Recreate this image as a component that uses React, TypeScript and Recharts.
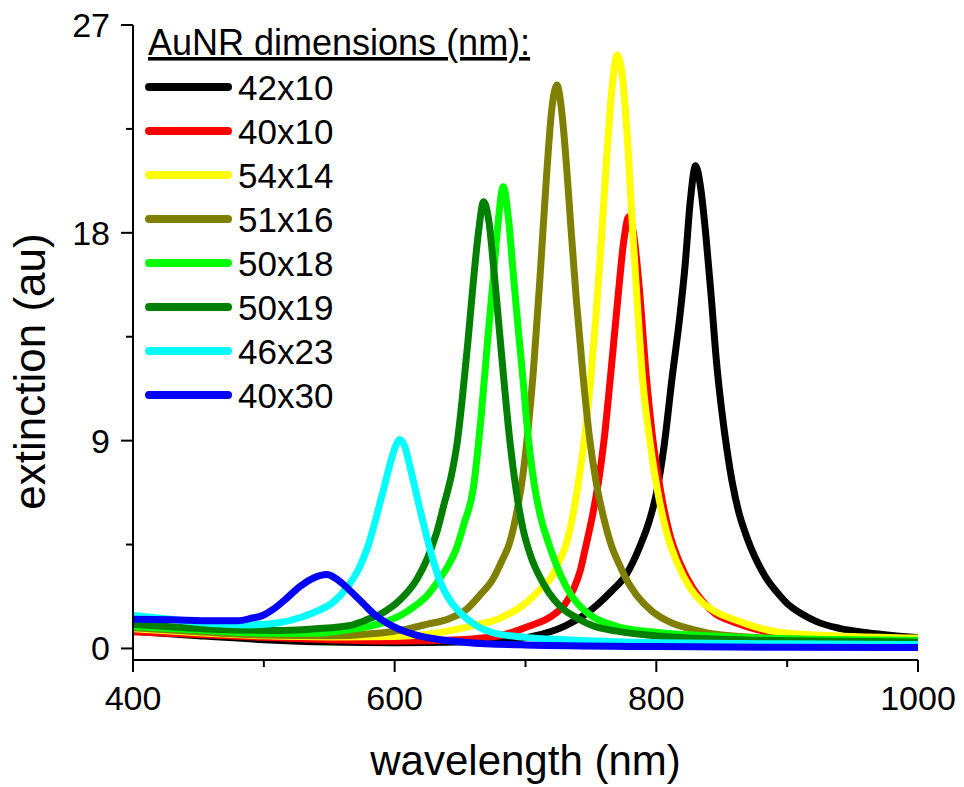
import React from "react";
import { LineChart, Line, XAxis, YAxis, Legend } from "recharts";

const FONT = "'Liberation Sans', Arial, sans-serif";

// rod dimensions (length x width, nm), in legend order
const rodLabels = ["42x10", "40x10", "54x14", "51x16", "50x18", "50x19", "46x23", "40x30"];
const rodColors = ["#000000", "#FF0000", "#FFFF00", "#808000", "#00FF00", "#008000", "#00FFFF", "#0000FF"];

const xTicks = [400, 500, 600, 700, 800, 900, 1000];
const yTicks = [0, 4.5, 9, 13.5, 18, 22.5, 27];

// extinction spectra: wavelength (nm) / extinction (au)
const nm42x10 = [400, 450, 500, 550, 600, 650, 680, 706, 730, 745, 755, 766, 777, 788, 795, 800, 806, 812, 818, 822, 826, 830, 834, 838, 842, 846, 850, 854, 858, 863, 868, 872, 878, 884, 892, 900, 911, 923, 940, 961, 980, 1000];
const ext42x10 = [0.75, 0.55, 0.38, 0.28, 0.25, 0.28, 0.36, 0.53, 0.97, 1.45, 1.9, 2.5, 3.2, 4.5, 5.6, 6.7, 8.8, 11.7, 14.4, 16.6, 19.4, 20.9, 19.9, 17.8, 15.2, 12.4, 10.3, 8.6, 7.2, 5.9, 5.0, 4.4, 3.65, 3.05, 2.45, 1.95, 1.5, 1.15, 0.87, 0.68, 0.56, 0.47];

const nm40x10 = [400, 450, 500, 550, 600, 650, 680, 703, 720, 730, 737, 742, 746, 751, 756, 760, 765, 771, 775, 779, 783, 787, 792, 797, 803, 810, 818, 828, 836, 845, 859, 875, 897, 950, 1000];
const ext40x10 = [0.72, 0.6, 0.48, 0.38, 0.32, 0.38, 0.55, 0.97, 1.4, 1.9, 2.6, 3.4, 4.4, 5.7, 7.3, 9.0, 11.8, 15.4, 17.6, 18.7, 17.8, 15.6, 12.0, 9.2, 6.9, 5.0, 3.7, 2.6, 2.0, 1.5, 1.15, 0.85, 0.6, 0.4, 0.33];

const nm54x14 = [400, 450, 500, 550, 600, 625, 658, 680, 701, 712, 720, 726, 731, 736, 741, 746, 750, 754, 758, 762, 766, 770, 774, 778, 782, 786, 789, 795, 801, 808, 816, 826, 835, 845, 859, 875, 897, 950, 1000];
const ext54x14 = [0.85, 0.68, 0.55, 0.5, 0.52, 0.62, 0.97, 1.3, 2.0, 2.6, 3.1, 3.8, 4.5, 5.7, 7.4, 9.5, 11.8, 14.5, 17.7, 21.2, 24.2, 25.7, 24.8, 22.0, 18.0, 14.5, 12.0, 9.0, 6.8, 5.0, 3.7, 2.6, 2.0, 1.6, 1.26, 0.95, 0.68, 0.52, 0.45];

const nm51x16 = [400, 450, 500, 550, 591, 610, 625, 642, 655, 665, 675, 682, 688, 693, 698, 702, 706, 711, 716, 720, 724, 728, 732, 735, 739, 744, 749, 754, 760, 766, 772, 777, 785, 797, 810, 828, 850, 900, 950, 1000];
const ext51x16 = [0.9, 0.72, 0.58, 0.55, 0.68, 0.85, 1.05, 1.3, 1.7, 2.3, 3.0, 3.8, 4.6, 5.8, 7.5, 9.5, 12.0, 16.0, 20.4, 23.3, 24.4, 23.1, 20.4, 18.0, 15.0, 11.8, 9.1, 7.2, 5.6, 4.4, 3.6, 3.0, 2.3, 1.6, 1.15, 0.82, 0.58, 0.42, 0.35, 0.3];

const nm50x18 = [400, 450, 500, 540, 566, 591, 605, 617, 625, 633, 640, 647, 653, 660, 666, 671, 675, 679, 683, 687, 691, 695, 698, 702, 707, 712, 718, 722, 727, 735, 745, 752, 770, 803, 850, 900, 1000];
const ext50x18 = [0.95, 0.8, 0.66, 0.66, 0.82, 1.12, 1.45, 1.9, 2.3, 2.9, 3.5, 4.3, 5.4, 6.9, 10.0, 13.3, 15.8, 18.4, 20.0, 18.6, 16.0, 13.5, 11.7, 9.2, 7.0, 5.6, 4.5, 3.85, 3.15, 2.3, 1.65, 1.35, 0.95, 0.68, 0.52, 0.42, 0.36];

const nm50x19 = [400, 440, 476, 515, 540, 566, 579, 591, 604, 617, 625, 632, 638, 643, 648, 652, 656, 660, 664, 668, 672, 676, 680, 684, 688, 693, 698, 704, 710, 718, 727, 740, 752, 770, 803, 850, 900, 1000];
const ext50x19 = [1.05, 0.9, 0.8, 0.78, 0.85, 1.0, 1.25, 1.55, 2.1, 3.0, 3.9, 5.0, 6.3, 7.4, 9.0, 11.0, 13.3, 15.8, 18.0, 19.35, 18.5, 16.3, 13.8, 11.3, 9.0, 6.8, 5.2, 4.0, 3.2, 2.4, 1.8, 1.3, 0.97, 0.75, 0.53, 0.4, 0.33, 0.28];

const nm46x23 = [400, 430, 460, 489, 510, 528, 540, 553, 563, 573, 580, 586, 592, 597, 601, 604, 608, 612, 617, 622, 628, 634, 642, 651, 662, 675, 700, 730, 800, 900, 1000];
const ext46x23 = [1.43, 1.25, 1.08, 1.02, 1.1, 1.34, 1.6, 2.0, 2.6, 3.5, 4.5, 5.7, 7.0, 8.1, 8.8, 9.05, 8.7, 7.8, 6.6, 5.4, 4.1, 3.0, 2.1, 1.5, 1.0, 0.68, 0.48, 0.38, 0.25, 0.2, 0.17];

const nm40x30 = [400, 430, 460, 480, 490, 500, 507, 515, 528, 538, 548, 557, 566, 575, 584, 594, 604, 615, 629, 655, 700, 800, 900, 1000];
const ext40x30 = [1.27, 1.24, 1.2, 1.2, 1.3, 1.45, 1.69, 2.05, 2.7, 3.05, 3.2, 2.95, 2.5, 2.0, 1.5, 1.1, 0.82, 0.6, 0.43, 0.26, 0.15, 0.08, 0.05, 0.04];

const nmLists = [nm42x10, nm40x10, nm54x14, nm51x16, nm50x18, nm50x19, nm46x23, nm40x30];
const extLists = [ext42x10, ext40x10, ext54x14, ext51x16, ext50x18, ext50x19, ext46x23, ext40x30];

const curves = rodLabels.map((label, i) => ({
  label,
  color: rodColors[i],
  points: nmLists[i].map((nm, j) => ({ nm, ext: extLists[i][j] })),
}));

const XTick = (props: any) => {
  const { x, y, payload } = props;
  const major = payload.value % 200 === 0;
  return (
    <g>
      <line x1={x} x2={x} y1={y} y2={y + (major ? 12 : 7)} stroke="#000" strokeWidth={2} />
      {major && (
        <text x={x} y={y + 50} textAnchor="middle" fontSize={34} fontFamily={FONT} fill="#000">
          {payload.value}
        </text>
      )}
    </g>
  );
};

const YTick = (props: any) => {
  const { x, y, payload } = props;
  const major = payload.value % 9 === 0;
  return (
    <g>
      <line x1={x - (major ? 12 : 7)} x2={x} y1={y} y2={y} stroke="#000" strokeWidth={2} />
      {major && (
        <text x={x - 23} y={y + 12} textAnchor="end" fontSize={34} fontFamily={FONT} fill="#000">
          {payload.value}
        </text>
      )}
    </g>
  );
};

const LegendBox = () => (
  <svg width={964} height={420} style={{ position: "absolute", left: 0, top: 0 }}>
    <text x={148} y={55} fontSize={36} fontFamily={FONT} fill="#000" textDecoration="underline">
      AuNR dimensions (nm):
    </text>
    {curves.map((c, i) => (
      <g key={c.label}>
        <line x1={149} x2={228} y1={87 + i * 44} y2={87 + i * 44} stroke={c.color} strokeWidth={8} strokeLinecap="round" />
        <text x={238} y={87 + i * 44 + 12.5} fontSize={35} fontFamily={FONT} fill="#000">
          {c.label}
        </text>
      </g>
    ))}
  </svg>
);

export default function App() {
  return (
    <div style={{ position: "absolute", left: 0, top: 0, width: 964, height: 787, background: "#fff" }}>
      <LineChart width={964} height={787} margin={{ top: 25, right: 46, bottom: 1, left: 0 }}>
        <XAxis
          type="number"
          dataKey="nm"
          domain={[400, 1000]}
          ticks={xTicks}
          interval={0}
          allowDataOverflow
          height={126}
          tickSize={0}
          tickMargin={0}
          tickLine={false}
          tick={<XTick />}
          axisLine={{ stroke: "#000", strokeWidth: 2 }}
          label={(p: any) => {
            const vb = p.viewBox;
            return (
              <text x={vb.x + vb.width / 2} y={vb.y + 115} textAnchor="middle" fontSize={42} fontFamily={FONT} fill="#000">
                wavelength (nm)
              </text>
            );
          }}
        />
        <YAxis
          type="number"
          domain={[-0.5, 27]}
          ticks={yTicks}
          interval={0}
          allowDataOverflow
          width={133}
          tickSize={0}
          tickMargin={0}
          tickLine={false}
          tick={<YTick />}
          axisLine={{ stroke: "#000", strokeWidth: 2 }}
          label={(p: any) => {
            const vb = p.viewBox;
            const cy = vb.y + vb.height / 2 + 29;
            return (
              <text x={45} y={cy} transform={`rotate(-90, 45, ${cy})`} textAnchor="middle" fontSize={44} fontFamily={FONT} fill="#000">
                extinction (au)
              </text>
            );
          }}
        />
        {curves.map((c) => (
          <Line
            key={c.label}
            data={c.points}
            dataKey="ext"
            name={c.label}
            type="monotone"
            stroke={c.color}
            strokeWidth={7}
            strokeLinejoin="round"
            strokeLinecap="round"
            dot={false}
            activeDot={false}
            isAnimationActive={false}
          />
        ))}
        <Legend
          layout="vertical"
          align="center"
          verticalAlign="middle"
          wrapperStyle={{ left: 0, top: 0, width: 964, height: 420, pointerEvents: "none" }}
          content={() => <LegendBox />}
        />
      </LineChart>
    </div>
  );
}
